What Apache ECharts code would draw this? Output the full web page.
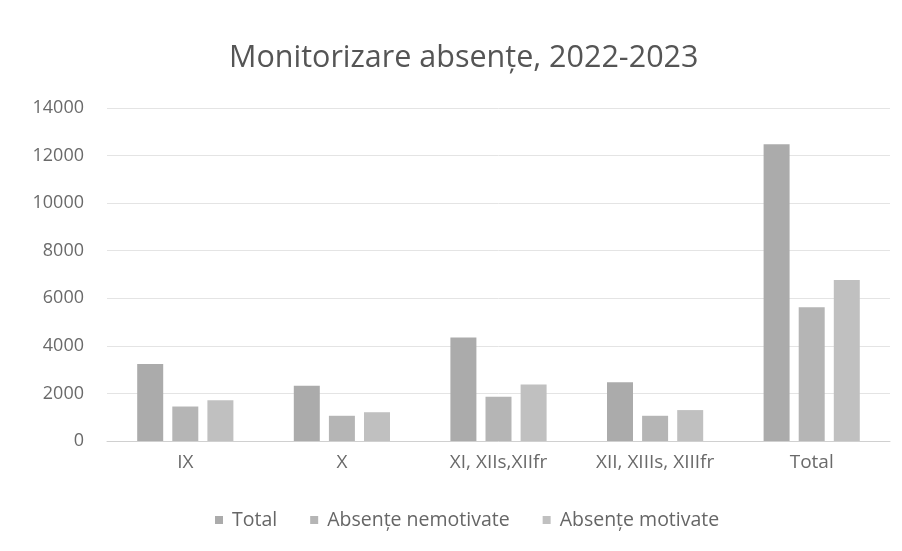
<!DOCTYPE html>
<html>
<head>
<meta charset="utf-8">
<script src="https://cdn.jsdelivr.net/npm/echarts@6/dist/echarts.min.js"></script>
<style>html,body{margin:0;padding:0;background:#fff}#c{width:902px;height:551px}</style>
</head>
<body>
<div id="c"></div>
<script>
const categories = ['IX', 'X', 'XI, XIIs,XIIfr', 'XII, XIIIs, XIIIfr', 'Total'];
const totalValues = [3240, 2320, 4350, 2470, 12480];
const nemotivateValues = [1450, 1060, 1860, 1060, 5620];
const motivateValues = [1710, 1210, 2380, 1300, 6770];
const seriesNames = ['Total', 'Absențe nemotivate', 'Absențe motivate'];
const yTicks = { min: 0, max: 14000, interval: 2000 };

const font = '"Open Sans", "Noto Sans", sans-serif';
const chart = echarts.init(document.getElementById('c'));
chart.setOption({
  backgroundColor: '#ffffff',
  animation: false,
  title: {
    text: 'Monitorizare absențe, 2022-2023',
    left: 224,
    top: 38,
    textStyle: { fontFamily: font, fontSize: 30.5, fontWeight: 'normal', color: '#555555' }
  },
  legend: {
    bottom: 16,
    left: 210,
    itemWidth: 8,
    itemHeight: 8,
    itemGap: 33,
    icon: 'rect',
    textStyle: { fontFamily: font, fontSize: 19.5, color: '#666666', padding: [0, 0, 0, 4] },
    data: seriesNames
  },
  grid: { left: 107, right: 12, top: 108, bottom: 110 },
  xAxis: {
    type: 'category',
    data: categories,
    axisLine: { lineStyle: { color: '#d0d0d0' } },
    axisTick: { show: false },
    axisLabel: { fontFamily: font, fontSize: 19, color: '#6a6a6a', margin: 12 }
  },
  yAxis: {
    type: 'value',
    min: yTicks.min,
    max: yTicks.max,
    interval: yTicks.interval,
    axisLine: { show: false },
    axisTick: { show: false },
    splitLine: { lineStyle: { color: '#e4e4e4' } },
    axisLabel: { fontFamily: font, fontSize: 18, color: '#6a6a6a', margin: 23, formatter: v => String(v) }
  },
  series: [
    { name: seriesNames[0], type: 'bar', data: totalValues, barWidth: 26, barGap: '35%', itemStyle: { color: '#ababab' } },
    { name: seriesNames[1], type: 'bar', data: nemotivateValues, barWidth: 26, barGap: '35%', itemStyle: { color: '#b5b5b5' } },
    { name: seriesNames[2], type: 'bar', data: motivateValues, barWidth: 26, barGap: '35%', itemStyle: { color: '#c0c0c0' } }
  ]
});
</script>
</body>
</html>
